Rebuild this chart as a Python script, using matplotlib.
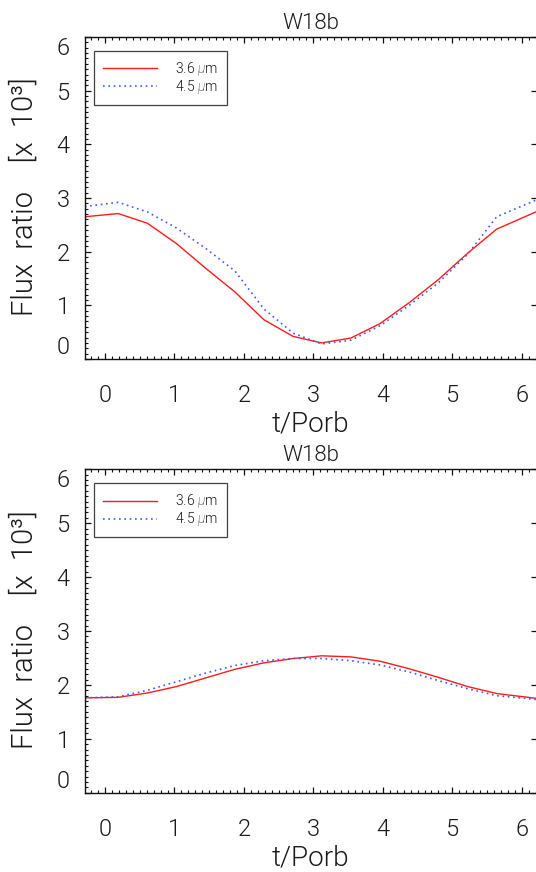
"""
W18b phase curves: planet/star flux ratio at 3.6 and 4.5 micron,
two model runs stacked vertically (IDL-style axes).
"""
import matplotlib
matplotlib.use("Agg")
import matplotlib.pyplot as plt
from matplotlib.ticker import MultipleLocator

# ── Data ─────────────────────────────────────────────────────────────────────

phase = [-0.29, 0.19, 0.61, 1.03, 1.45, 1.87, 2.29, 2.71,
         3.12, 3.54, 3.96, 4.38, 4.80, 5.22, 5.64, 6.22]

top_36 = [2.65, 2.71, 2.53, 2.15, 1.69, 1.25, 0.73, 0.42,
          0.30, 0.39, 0.66, 1.05, 1.48, 1.97, 2.42, 2.75]
top_45 = [2.84, 2.92, 2.74, 2.44, 2.06, 1.64, 0.93, 0.48,
          0.28, 0.35, 0.62, 1.00, 1.42, 1.95, 2.65, 2.97]

bot_36 = [1.76, 1.77, 1.85, 1.97, 2.13, 2.29, 2.41, 2.49,
          2.54, 2.52, 2.44, 2.30, 2.14, 1.97, 1.84, 1.75]
bot_45 = [1.76, 1.78, 1.90, 2.06, 2.22, 2.36, 2.45, 2.49,
          2.49, 2.45, 2.37, 2.24, 2.08, 1.93, 1.80, 1.73]

panels = [("W18b", top_36, top_45), ("W18b", bot_36, bot_45)]

labels = [r"3.6 $\mu$m", r"4.5 $\mu$m"]
yticks = [0, 1, 2, 3, 4, 5, 6]
xticks = [0, 1, 2, 3, 4, 5, 6]

# ── Style ────────────────────────────────────────────────────────────────────

plt.rcParams["font.family"] = ["Roboto", "DejaVu Sans"]
plt.rcParams["font.weight"] = 300
plt.rcParams["axes.labelweight"] = 300
plt.rcParams["axes.titleweight"] = 300
plt.rcParams["mathtext.fontset"] = "custom"
plt.rcParams["mathtext.it"] = "Roboto:italic:light"
plt.rcParams["mathtext.rm"] = "Roboto:light"
TXT = "#1a1a1a"

fig = plt.figure(figsize=(5.36, 8.72), dpi=100)

# axes boxes in figure fractions (left, bottom, width, height);
# the right edge runs just past the canvas, as in the original
boxes = [(0.1586, 0.5883, 0.8433, 0.3693),
         (0.1586, 0.0909, 0.8433, 0.3709)]

for (title, f36, f45), box in zip(panels, boxes):
    ax = fig.add_axes(box)
    ax.plot(phase, f36, color="#ff1a1a", lw=1.0, label=labels[0])
    ax.plot(phase, f45, color="#3b5bff", lw=1.2, ls=(0, (1, 2.2)),
            label=labels[1])

    ax.set_xlim(-0.288, 6.22)
    ax.set_ylim(0, 6)
    ax.set_xticks(xticks)
    ax.set_yticks(yticks)
    ax.xaxis.set_minor_locator(MultipleLocator(0.1))
    ax.yaxis.set_minor_locator(MultipleLocator(0.1))
    ax.tick_params(which="both", direction="in", top=True, right=True,
                   colors="#111111", labelcolor=TXT, labelsize=17)
    ax.tick_params(which="major", length=4.5, width=0.9)
    ax.tick_params(which="minor", length=2.3, width=0.8)
    ax.tick_params(axis="y", which="minor", right=False)
    ax.tick_params(axis="x", which="major", pad=18)
    ax.tick_params(axis="y", which="major", pad=11)
    for sp in ax.spines.values():
        sp.set_linewidth(1.0)
        sp.set_color("#111111")

    # IDL pulls the end labels inside the axis range
    ylabs = ax.get_yticklabels()
    ylabs[0].set_verticalalignment("bottom")
    ylabs[-1].set_verticalalignment("top")

    ax.set_title(title, fontsize=16, color=TXT, pad=6)

    ax.set_xlabel("t/Porb", fontsize=20, color=TXT)
    ax.xaxis.label.set_verticalalignment("center")
    ax.xaxis.set_label_coords((310 - 85) / 452, -0.202)

    ax.set_ylabel("Flux  ratio    [x  10³]", fontsize=21, color=TXT)
    ax.yaxis.set_label_coords(-0.133, 0.505)
    ax.yaxis.label.set_verticalalignment("center")

    leg = ax.legend(loc="upper left", bbox_to_anchor=(0.02, 0.9565),
                    fontsize=10, frameon=True, fancybox=False,
                    edgecolor="#111111", handlelength=3.9, handletextpad=1.3,
                    borderpad=0.65, labelspacing=0.0, borderaxespad=0)
    leg.get_frame().set_linewidth(0.9)
    for t in leg.get_texts():
        t.set_color(TXT)

fig.savefig("out.png", dpi=100)
